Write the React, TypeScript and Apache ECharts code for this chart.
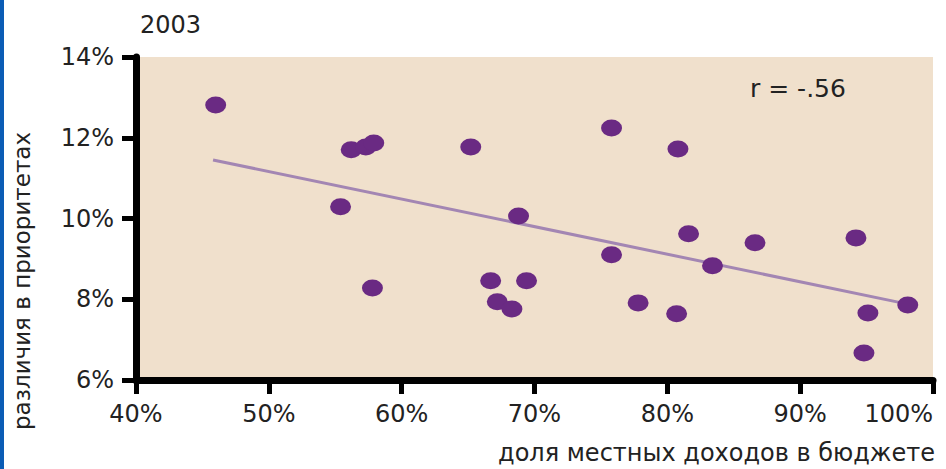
import React, { useEffect, useRef } from "react";
import * as echarts from "echarts";

// Share of local revenues in budget (%)
const localShare = [
  46.0, 56.2, 57.3, 57.9, 65.2, 75.8, 80.8, 55.4, 68.8, 81.6, 86.6, 94.2,
  75.8, 83.4, 66.7, 69.4, 57.8, 67.2, 68.3, 77.8, 80.7, 95.1, 98.1, 94.8,
];
// Differences in priorities (%)
const priorityDiff = [
  12.81, 11.70, 11.77, 11.87, 11.77, 12.24, 11.72, 10.29, 10.06, 9.62, 9.40, 9.52,
  9.10, 8.83, 8.46, 8.46, 8.28, 7.94, 7.76, 7.91, 7.64, 7.66, 7.86, 6.67,
];
// Regression line endpoints
const trendX = [45.8, 98.1];
const trendY = [11.45, 7.88];

const xTicks = { min: 40, max: 100, interval: 10 };
const yTicks = { min: 6, max: 14, interval: 2 };

const yearLabel = "2003";
const corrLabel = "r = -.56";
const xTitle = "доля местных доходов в бюджете";
const yTitle = "различия в приоритетах";

const FONT = "DejaVu Sans";

export default function App() {
  const ref = useRef<HTMLDivElement>(null);
  useEffect(() => {
    if (!ref.current) return;
    const chart = echarts.init(ref.current, undefined, { renderer: "svg" });
    const points = localShare.map((x, i) => [x, priorityDiff[i]]);
    const trend = trendX.map((x, i) => [x, trendY[i]]);
    const axisCommon = {
      axisLine: { show: true, onZero: false, lineStyle: { color: "#000", width: 7 } },
      axisTick: { show: true, inside: false, length: 14, lineStyle: { color: "#000", width: 5 } },
      splitLine: { show: false },
    };
    chart.setOption({
      animation: false,
      backgroundColor: "#ffffff",
      grid: {
        left: 136,
        right: 13,
        top: 57,
        bottom: 89,
        show: true,
        backgroundColor: "#f0e0cc",
        borderWidth: 0,
      },
      xAxis: {
        type: "value",
        ...xTicks,
        ...axisCommon,
        axisLabel: {
          formatter: "{value}%",
          fontFamily: FONT,
          fontSize: 24,
          color: "#222",
          margin: 22,
          alignMaxLabel: "right",
        },
      },
      yAxis: {
        type: "value",
        ...yTicks,
        ...axisCommon,
        axisLabel: {
          formatter: "{value}%",
          fontFamily: FONT,
          fontSize: 24,
          color: "#222",
          margin: 22,
        },
      },
      series: [
        {
          type: "line",
          data: trend,
          symbol: "none",
          z: 1,
          lineStyle: { color: "#a386b3", width: 3 },
        },
        {
          type: "scatter",
          data: points,
          z: 2,
          symbol: "path://M0,10 A10,10 0 1,1 20,10 A10,10 0 1,1 0,10 Z",
          symbolSize: [21, 17],
          itemStyle: { color: "#6a2a83", opacity: 1 },
        },
      ],
      graphic: [
        { type: "rect", left: 0, top: 0, shape: { width: 4, height: 469 }, style: { fill: "#0b5cb5" } },
        {
          type: "text",
          x: 140,
          y: 25,
          style: { text: yearLabel, font: `24px '${FONT}'`, fill: "#222", textAlign: "left", textVerticalAlign: "middle" },
        },
        {
          type: "text",
          x: 750,
          y: 88,
          z: 10,
          style: { text: corrLabel, font: `25px '${FONT}'`, fill: "#222", textAlign: "left", textVerticalAlign: "middle" },
        },
        {
          type: "text",
          x: 935,
          y: 453,
          style: { text: xTitle, font: `24px '${FONT}'`, fill: "#222", textAlign: "right", textVerticalAlign: "middle" },
        },
        {
          type: "text",
          x: 22,
          y: 281,
          rotation: Math.PI / 2,
          style: { text: yTitle, font: `23px '${FONT}'`, fill: "#222", textAlign: "center", textVerticalAlign: "middle" },
        },
      ],
    });
    return () => chart.dispose();
  }, []);
  return (
    <div
      ref={ref}
      style={{ position: "fixed", left: 0, top: 0, width: 946, height: 469 }}
    />
  );
}
